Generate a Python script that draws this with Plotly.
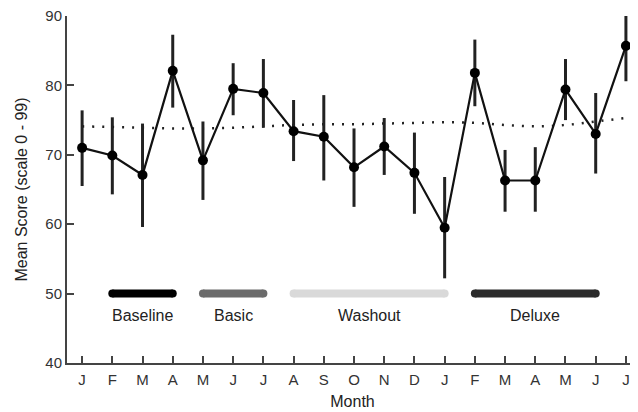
import plotly.graph_objects as go

months = ["J", "F", "M", "A", "M", "J", "J", "A", "S", "O", "N", "D",
          "J", "F", "M", "A", "M", "J", "J"]
mean_score = [71.0, 69.9, 67.1, 82.1, 69.2, 79.5, 78.9, 73.4, 72.6, 68.2,
              71.2, 67.4, 59.5, 81.8, 66.3, 66.3, 79.4, 73.0, 85.7]
err_upper = [76.4, 75.4, 74.5, 87.3, 74.8, 83.2, 83.8, 77.9, 78.6, 73.8,
             75.3, 73.2, 66.8, 86.6, 70.7, 71.1, 83.8, 78.9, 90.0]
err_lower = [65.5, 64.3, 59.6, 76.8, 63.5, 75.7, 73.9, 69.1, 66.3, 62.5,
             67.1, 61.5, 52.2, 77.0, 61.8, 61.8, 75.0, 67.3, 80.6]
trend = [74.1, 74.0, 73.9, 73.8, 73.8, 73.9, 74.1, 74.3, 74.4, 74.4,
         74.5, 74.6, 74.7, 74.6, 74.3, 74.1, 74.3, 74.8, 75.3]

phase_names = ["Baseline", "Basic", "Washout", "Deluxe"]
phase_start = [1, 4, 7, 13]
phase_end = [3, 6, 12, 17]
phase_colors = ["#000000", "#6b6b6b", "#d9d9d9", "#2b2b2b"]
phase_level = 50
label_level = 46.8

x = list(range(len(months)))
font = "Liberation Sans, Arial, sans-serif"

fig = go.Figure()

# trend (dotted)
fig.add_trace(go.Scatter(
    x=x, y=trend, mode="lines",
    line=dict(color="#222222", width=2.5, dash="2px,8px", shape="spline"),
    hoverinfo="skip", showlegend=False, cliponaxis=False))

# phase bars
for name, s, e, c in zip(phase_names, phase_start, phase_end, phase_colors):
    fig.add_trace(go.Scatter(
        x=[s, e], y=[phase_level, phase_level], mode="lines+markers",
        line=dict(color=c, width=8),
        marker=dict(color=c, size=8, line=dict(width=0)),
        showlegend=False, hoverinfo="skip"))
    fig.add_annotation(x=(s + e) / 2, y=label_level, text=name,
                       showarrow=False, xref="x", yref="y",
                       font=dict(family=font, size=16, color="#222222"))

# mean scores with error bars
fig.add_trace(go.Scatter(
    x=x, y=mean_score, mode="lines+markers",
    line=dict(color="#111111", width=2.2),
    marker=dict(color="#000000", size=10),
    error_y=dict(type="data", symmetric=False,
                 array=[u - m for u, m in zip(err_upper, mean_score)],
                 arrayminus=[m - l for m, l in zip(mean_score, err_lower)],
                 thickness=3, width=0, color="#222222"),
    showlegend=False, cliponaxis=False))

axis_common = dict(showline=True, linewidth=2, linecolor="#444444",
                   ticks="inside", ticklen=7, tickwidth=2, tickcolor="#444444",
                   showgrid=False, zeroline=False, automargin=False,
                   ticklabeloverflow="allow",
                   tickfont=dict(family=font, size=15, color="#333333"))

fig.update_xaxes(range=[-0.5, 18.4], tickmode="array", tickvals=x,
                 ticktext=months, ticklabelstandoff=2,
                 title=dict(text="Month", standoff=9,
                            font=dict(family=font, size=16, color="#222222")),
                 **axis_common)
fig.update_yaxes(range=[40, 90], tickvals=[40, 50, 60, 70, 80, 90],
                 ticklabelstandoff=0,
                 title=dict(text="Mean Score (scale 0 - 99)", standoff=14,
                            font=dict(family=font, size=16, color="#222222")),
                 **axis_common)

# page body has an 8px default margin, so the figure is sized/offset to fit
fig.update_layout(
    width=630, height=404,
    margin=dict(l=59, r=0, t=8, b=49, autoexpand=False),
    plot_bgcolor="white", paper_bgcolor="white",
    font=dict(family=font),
)

fig.write_html("out.html")
